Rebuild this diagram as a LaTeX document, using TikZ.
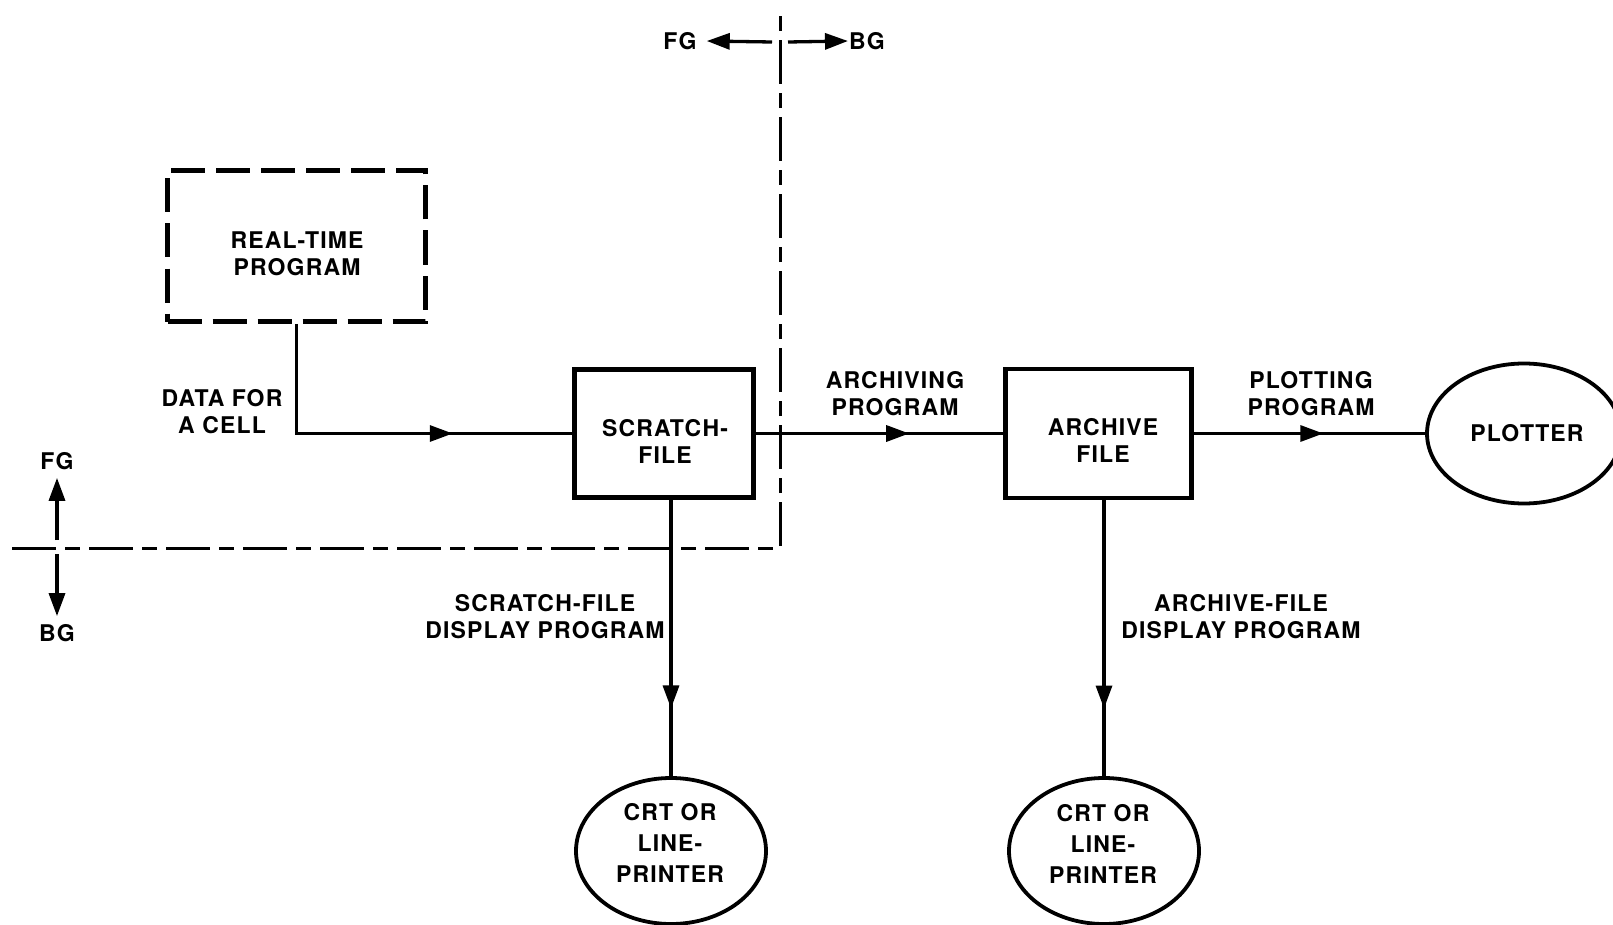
\documentclass[tikz,border=0pt]{standalone}
\usepackage{fontspec}
\setmainfont{TeX Gyre Heros}[LetterSpace=5]
\usetikzlibrary{arrows.meta,shapes.geometric,decorations.markings}
\begin{document}
\begin{tikzpicture}[x=1pt,y=-1pt,
  txt/.style={font=\bfseries\fontsize{23}{27}\selectfont, align=center, inner sep=0pt},
  ovaltxt/.style={font=\bfseries\fontsize{23}{31}\selectfont, align=center, inner sep=0pt},
  solidbox/.style={draw, line width=4.6pt, inner sep=0pt},
  oval/.style={draw, ellipse, line width=3.8pt, inner sep=0pt, minimum width=190pt, minimum height=146pt},
  conn/.style={line width=3.3pt},
  bound/.style={line width=3pt, dash pattern=on 44pt off 9pt on 15pt off 9pt},
  tipped/.style={line width=3.3pt, -{Triangle[length=23pt,width=16pt]}},
  midarrow/.style={postaction={decorate}, decoration={markings,
     mark=at position #1 with {\arrow{Triangle[length=23pt,width=16pt]}}}}
]
\useasboundingbox (0,0) rectangle (1613,925);

% boxes
\node[draw, line width=4.8pt, dash pattern=on 34pt off 11pt, minimum width=258pt, minimum height=151pt] (rt) at (296.5,246) {};
\node[txt] (rtt) at (297,253.5) {REAL-TIME\\PROGRAM};

\node[solidbox, minimum width=179pt, minimum height=128pt] (sf) at (664,433.5) {};
\node[txt] (sft) at (665,441.5) {SCRATCH-\\FILE};

\node[solidbox, minimum width=186pt, minimum height=129pt] (af) at (1098.5,433.5) {};
\node[txt] (aft) at (1103,440) {ARCHIVE\\FILE};

\node[oval, minimum width=194pt, minimum height=140pt] (pl) at (1524,433.5) {};
\node[txt] (plt) at (1527,433) {PLOTTER};

\node[oval] (c1) at (671,851) {};
\node[ovaltxt] (c1t) at (670,843) {CRT OR\\LINE-\\PRINTER};

\node[oval] (c2) at (1104,851) {};
\node[ovaltxt] (c2t) at (1103,844) {CRT OR\\LINE-\\PRINTER};

% labels
\node[txt] (ldata) at (222,411.5) {DATA FOR\\A CELL};
\node[txt] (larch) at (895,393.5) {ARCHIVING\\PROGRAM};
\node[txt] (lplot) at (1311,393.5) {PLOTTING\\PROGRAM};
\node[txt] (lsdisp) at (545,616.5) {SCRATCH-FILE\\DISPLAY PROGRAM};
\node[txt] (ladisp) at (1241,617) {ARCHIVE-FILE\\DISPLAY PROGRAM};

% FG / BG markers
\node[txt, inner xsep=10pt] (fgtop) at (680,41) {FG};
\node[txt, inner xsep=1pt] (bgtop) at (867,41) {BG};
\node[txt, inner ysep=8pt] (fgleft) at (57,461) {FG};
\node[txt, inner ysep=8pt] (bgleft) at (57,633) {BG};

% boundary
\coordinate (bl) at (12,548);
\coordinate (bc) at (780,548);
\coordinate (bt) at (780,10);
\draw[bound] (bl) -- (bc) -- (bt);

\coordinate (tl) at (772,42);
\coordinate (tr) at (788,42);
\coordinate (lu) at (57,540);
\coordinate (ld) at (57,554);
\draw[tipped] (tl) -- (fgtop.east);
\draw[tipped] (tr) -- (bgtop.west);
\draw[tipped] (lu) -- (fgleft.south);
\draw[tipped] (ld) -- (bgleft.north);

% connectors
\draw[conn, midarrow=0.69] (rt.south) |- (sf.west);
\draw[conn, midarrow=0.62] (sf.east) -- (af.west);
\draw[conn, midarrow=0.56] (af.east) -- (af.east -| pl.west);
\draw[conn, midarrow=0.755] (sf.south -| c1.north) -- (c1.north);
\draw[conn, midarrow=0.755] (af.south -| c2.north) -- (c2.north);
\end{tikzpicture}
\end{document}
